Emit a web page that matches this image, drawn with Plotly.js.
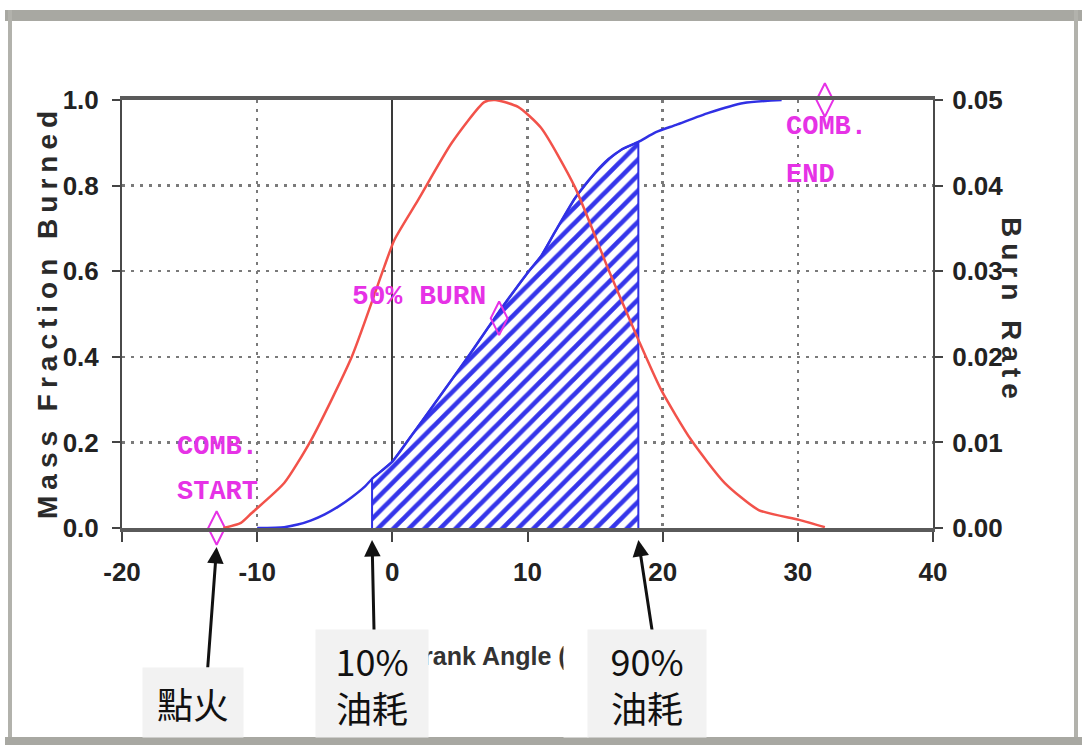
<!DOCTYPE html>
<html>
<head>
<meta charset="utf-8">
<script src="https://cdn.plot.ly/plotly-3.0.1.min.js"></script>
<style>
  html, body { margin: 0; padding: 0; background: #ffffff; }
  #chart { width: 1086px; height: 745px; }
  .annotation[data-index="0"] text, .annotation[data-index="1"] text { letter-spacing: 6px; }
</style>
</head>
<body>
<div id="chart"></div>
<script>
// ---- Data ----
// Mass fraction burned (left axis) vs crank angle
const mfbAngle = [-10, -8, -7, -6, -5, -4, -3, -2, -1.5, 0, 1.2, 3, 5.6, 8, 10.1, 11, 12, 13.5, 15, 16, 17, 18.2, 19.5, 21, 23.4, 26, 28.8];
const mfbValue = [0, 0.002, 0.008, 0.018, 0.032, 0.05, 0.072, 0.098, 0.115, 0.155, 0.206, 0.285, 0.40, 0.51, 0.60, 0.635, 0.69, 0.77, 0.83, 0.862, 0.885, 0.902, 0.925, 0.942, 0.97, 0.993, 1.0];

// Burn rate (right axis) vs crank angle
const rateAngle = [-12.5, -11.2, -10.4, -8, -6, -3, -0.6, 0.15, 1.9, 4.4, 6.8, 7.6, 9.3, 11, 13.5, 16, 18.2, 19.9, 22.1, 24.6, 27.1, 30.1, 32];
const rateValue = [0, 0.0006, 0.00175, 0.00525, 0.0103, 0.020, 0.0305, 0.03365, 0.0383, 0.045, 0.04975, 0.05, 0.0492, 0.04675, 0.03985, 0.03015, 0.022, 0.0161, 0.0103, 0.00525, 0.0021, 0.00095, 0.0001];

// Combustion events (start, 50% burn, end)
const eventAngle = [-13, 7.9, 32];
const eventMfb = [0, 0.49, 1.0];

// 10% and 90% burn angles (hatched region), ignition angle
const burn10Angle = -1.5;
const burn90Angle = 18.2;
const ignitionAngle = -13;

// Tick labels
const xTicks = [-20, -10, 0, 10, 20, 30, 40];
const yTicks = [0, 0.2, 0.4, 0.6, 0.8, 1.0];
const y2Ticks = [0, 0.01, 0.02, 0.03, 0.04, 0.05];

// ---- Build hatched region from the MFB series ----
const hx = [burn10Angle], hy = [0];
mfbAngle.forEach((a, i) => {
  if (a >= burn10Angle && a <= burn90Angle) { hx.push(a); hy.push(mfbValue[i]); }
});
hx.push(burn90Angle); hy.push(0);

const MAG = '#e632e6';
const BLUE = '#3030e4';
const RED = '#f2524a';
const sans = '"Liberation Sans", Arial, sans-serif';
const cjk = '"Noto Sans CJK TC", "Noto Sans CJK SC", sans-serif';
const mono = '"Liberation Mono", "DejaVu Sans Mono", monospace';

// paper coordinate helpers (plot area 122..933 x 100..528 px)
const PX = p => (p - 122) / 811;
const PY = p => (528 - p) / 428;

const traces = [
  {
    x: hx, y: hy, mode: 'lines', fill: 'toself',
    fillpattern: { shape: '/', fgcolor: '#3535ea', bgcolor: '#ffffff', size: 11, solidity: 0.42, fillmode: 'replace' },
    line: { color: BLUE, width: 2 },
    hoverinfo: 'skip', showlegend: false
  },
  {
    x: mfbAngle, y: mfbValue, mode: 'lines',
    line: { color: BLUE, width: 2.5, shape: 'spline', smoothing: 0.6 },
    showlegend: false
  },
  {
    x: rateAngle, y: rateValue, yaxis: 'y2', mode: 'lines',
    line: { color: RED, width: 2.5, shape: 'spline', smoothing: 0.6 },
    showlegend: false
  },
  {
    x: eventAngle, y: eventMfb, mode: 'markers', cliponaxis: false,
    marker: { symbol: 'diamond-tall-open', size: 24, color: MAG, line: { color: MAG, width: 2 } },
    showlegend: false
  }
];

const gridStyle = { gridcolor: '#7a7a7a', gridwidth: 2.5, griddash: '3px,6px' };

const ctr = { xanchor: 'center', yanchor: 'middle' };
const magFont = s => ({ family: mono, size: s, color: MAG, weight: 'bold' });
const annotations = [
  // 0: left title
  Object.assign({ text: 'Mass Fraction Burned', xref: 'paper', yref: 'paper', x: PX(47), y: PY(312), textangle: -90,
    showarrow: false, font: { family: sans, size: 28, color: '#2a2a2a', weight: 'bold' } }, ctr),
  // 1: right title
  Object.assign({ text: 'Burn Rate', xref: 'paper', yref: 'paper', x: PX(1012), y: PY(311), textangle: 90,
    showarrow: false, font: { family: sans, size: 28, color: '#2a2a2a', weight: 'bold' } }, ctr),
  // 2: x title (partly covered by the pasted label boxes, as in the reference)
  Object.assign({ text: 'Crank Angle (deg)', xref: 'paper', yref: 'paper', x: PX(512), y: PY(656),
    showarrow: false, font: { family: sans, size: 25, color: '#333', weight: 'bold' } }, ctr),
  // magenta event labels
  { text: 'COMB.', xref: 'x', yref: 'y', x: -12.96, y: 0.19, showarrow: false, font: magFont(27) },
  { text: 'START', xref: 'x', yref: 'y', x: -12.96, y: 0.084, showarrow: false, font: magFont(27) },
  { text: '50% BURN', xref: 'x', yref: 'y', x: 2.0, y: 0.54, showarrow: false, font: magFont(28) },
  { text: 'COMB.', xref: 'x', yref: 'y', x: 29.0, y: 0.937, xanchor: 'left', showarrow: false, font: magFont(27) },
  { text: 'END', xref: 'x', yref: 'y', x: 29.0, y: 0.825, xanchor: 'left', showarrow: false, font: magFont(27) },
  // arrows
  { text: '', xref: 'x', yref: 'paper', x: ignitionAngle, y: PY(547), ax: -9, ay: 122, showarrow: true,
    arrowhead: 2, arrowsize: 1.1, arrowwidth: 3, arrowcolor: '#111', standoff: 0 },
  { text: '', xref: 'x', yref: 'paper', x: burn10Angle, y: PY(540), ax: 2, ay: 92, showarrow: true,
    arrowhead: 2, arrowsize: 1.1, arrowwidth: 3, arrowcolor: '#111', standoff: 0 },
  { text: '', xref: 'x', yref: 'paper', x: burn90Angle, y: PY(540), ax: 14, ay: 92, showarrow: true,
    arrowhead: 2, arrowsize: 1.1, arrowwidth: 3, arrowcolor: '#111', standoff: 0 },
  // white margin of the pasted 90% label image
  Object.assign({ text: ' ', xref: 'paper', yref: 'paper', x: PX(576), y: PY(683.5), width: 24, height: 107,
    bgcolor: '#ffffff', borderpad: 0, showarrow: false, font: { family: sans, size: 10, color: '#ffffff' } }, ctr),
  // label boxes
  Object.assign({ text: '點火', xref: 'paper', yref: 'paper', x: PX(193), y: PY(702.5), width: 100, height: 69,
    bgcolor: '#f2f2f2', borderpad: 0, showarrow: false, font: { family: cjk, size: 36, color: '#111' } }, ctr),
  Object.assign({ text: '10%<br>油耗', xref: 'paper', yref: 'paper', x: PX(372), y: PY(683.5), width: 112, height: 107,
    bgcolor: '#f2f2f2', borderpad: 0, showarrow: false, font: { family: cjk, size: 36, color: '#111' } }, ctr),
  Object.assign({ text: '90%<br>油耗', xref: 'paper', yref: 'paper', x: PX(647), y: PY(683.5), width: 118, height: 107,
    bgcolor: '#f2f2f2', borderpad: 0, showarrow: false, font: { family: cjk, size: 36, color: '#111' } }, ctr)
];

const frameColor = '#a8a8a2';
const shapes = [
  { type: 'rect', xref: 'paper', yref: 'paper', x0: PX(5), x1: PX(1082), y0: PY(10), y1: PY(21), fillcolor: frameColor, line: { width: 0 }, layer: 'below' },
  { type: 'rect', xref: 'paper', yref: 'paper', x0: PX(8), x1: PX(12), y0: PY(10), y1: PY(745), fillcolor: '#b2b2ac', line: { width: 0 }, layer: 'below' },
  { type: 'rect', xref: 'paper', yref: 'paper', x0: PX(1074), x1: PX(1078), y0: PY(10), y1: PY(745), fillcolor: '#b2b2ac', line: { width: 0 }, layer: 'below' },
  { type: 'rect', xref: 'paper', yref: 'paper', x0: PX(5), x1: PX(1082), y0: PY(737), y1: PY(745), fillcolor: frameColor, line: { width: 0 }, layer: 'below' }
];

const tickFont = { family: sans, size: 26, color: '#222', weight: 'bold' };

const layout = {
  width: 1086, height: 745, autosize: false,
  margin: { l: 122, r: 153, t: 100, b: 217, pad: 0 },
  paper_bgcolor: '#ffffff', plot_bgcolor: '#ffffff',
  showlegend: false,
  xaxis: Object.assign({
    range: [-20, 40], tickvals: xTicks, ticktext: xTicks.map(String),
    showgrid: true, zeroline: true, zerolinecolor: '#3a3a3a', zerolinewidth: 2,
    showline: true, linecolor: '#5a5a5a', linewidth: 4, mirror: true,
    ticks: 'outside', ticklen: 10, tickwidth: 2, tickcolor: '#444',
    tickfont: tickFont, ticklabelstandoff: 8, fixedrange: true
  }, gridStyle),
  yaxis: Object.assign({
    range: [0, 1], tickvals: yTicks, ticktext: yTicks.map(v => v.toFixed(1)),
    showgrid: true, zeroline: false,
    showline: true, linecolor: '#4a4a4a', linewidth: 2,
    ticks: 'outside', ticklen: 8, tickwidth: 2, tickcolor: '#444',
    tickfont: tickFont, ticklabelstandoff: 8, fixedrange: true
  }, gridStyle),
  yaxis2: {
    range: [0, 0.05], overlaying: 'y', side: 'right',
    tickvals: y2Ticks, ticktext: y2Ticks.map(v => v.toFixed(2)),
    showgrid: false, zeroline: false,
    showline: true, linecolor: '#4a4a4a', linewidth: 2,
    ticks: 'outside', ticklen: 8, tickwidth: 2, tickcolor: '#444',
    tickfont: tickFont, ticklabelstandoff: 4, fixedrange: true
  },
  annotations: annotations,
  shapes: shapes
};

Plotly.newPlot('chart', traces, layout, { displayModeBar: false, staticPlot: true });
</script>
</body>
</html>
